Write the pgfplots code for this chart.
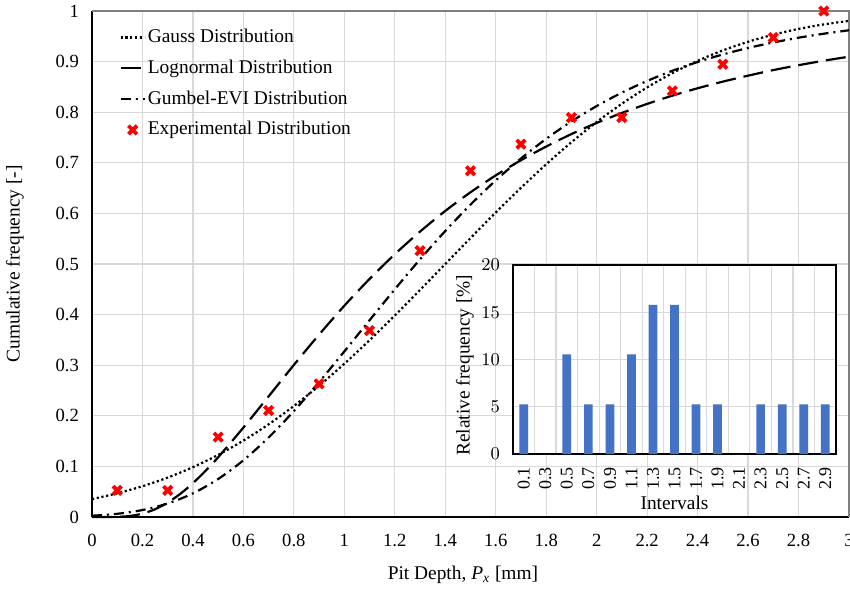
\documentclass[border=0pt]{standalone}
\usepackage{fontspec}
\setmainfont{Liberation Serif}
\usepackage{pgfplots}
\usepackage{pgfplotstable}
\pgfplotsset{compat=1.18}
\definecolor{gridgray}{HTML}{D9D9D9}
\definecolor{framegray}{HTML}{7F7F7F}
\definecolor{barblue}{HTML}{4472C4}

\pgfplotstableread{
x y
0.0 0.0354
0.1 0.0468
0.2 0.0608
0.3 0.0779
0.4 0.0985
0.5 0.1228
0.6 0.1510
0.7 0.1832
0.8 0.2194
0.9 0.2594
1.0 0.3029
1.1 0.3494
1.2 0.3982
1.3 0.4487
1.4 0.5000
1.5 0.5513
1.6 0.6018
1.7 0.6506
1.8 0.6971
1.9 0.7406
2.0 0.7806
2.1 0.8168
2.2 0.8490
2.3 0.8772
2.4 0.9015
2.5 0.9221
2.6 0.9392
2.7 0.9532
2.8 0.9646
2.9 0.9735
3.0 0.9805
}\gauss

\pgfplotstableread{
x y
0.0 0.0000
0.05 0.0000
0.1 0.0003
0.15 0.0020
0.2 0.0067
0.25 0.0153
0.3 0.0285
0.35 0.0458
0.4 0.0669
0.45 0.0913
0.5 0.1181
0.6 0.1767
0.7 0.2385
0.8 0.3005
0.9 0.3605
1.0 0.4175
1.1 0.4705
1.2 0.5193
1.3 0.5640
1.4 0.6049
1.5 0.6417
1.6 0.6751
1.7 0.7051
1.8 0.7321
1.9 0.7568
2.0 0.7788
2.1 0.7985
2.2 0.8164
2.3 0.8327
2.4 0.8473
2.5 0.8604
2.6 0.8722
2.7 0.8832
2.8 0.8929
2.9 0.9017
3.0 0.9097
}\lognorm

\pgfplotstableread{
x y
0.0 0.0025
0.1 0.0063
0.2 0.0138
0.3 0.0267
0.4 0.0467
0.5 0.0751
0.6 0.1120
0.7 0.1572
0.8 0.2093
0.9 0.2666
1.0 0.3272
1.1 0.3889
1.2 0.4500
1.3 0.5092
1.4 0.5652
1.5 0.6173
1.6 0.6652
1.7 0.7085
1.8 0.7474
1.9 0.7818
2.0 0.8121
2.1 0.8387
2.2 0.8618
2.3 0.8819
2.4 0.8992
2.5 0.9141
2.6 0.9269
2.7 0.9378
2.8 0.9472
2.9 0.9551
3.0 0.9619
}\gumbel

\pgfplotstableread{
x y
0.1 0.0526
0.3 0.0526
0.5 0.1579
0.7 0.2105
0.9 0.2632
1.1 0.3684
1.3 0.5263
1.5 0.6842
1.7 0.7368
1.9 0.7895
2.1 0.7895
2.3 0.8421
2.5 0.8947
2.7 0.9474
2.9 1.0000
}\experim

\pgfplotstableread{
x y
0 5.26
1 0
2 10.53
3 5.26
4 5.26
5 10.53
6 15.79
7 15.79
8 5.26
9 5.26
10 0
11 5.26
12 5.26
13 5.26
14 5.26
}\hist

\begin{document}
\begin{tikzpicture}[font=\fontsize{9.7}{11.5}\selectfont]
\path[use as bounding box] (-46pt,-36pt) rectangle (379pt,258.5pt);
\begin{axis}[
  scale only axis, width=378.5pt, height=253pt,
  xmin=0, xmax=3, ymin=0, ymax=1,
  clip=false,
  axis x line*=bottom, axis y line*=left,
  axis line style={-, black, line width=0.8pt},
  major tick length=0pt,
  xtick={0,0.2,0.4,0.6,0.8,1,1.2,1.4,1.6,1.8,2,2.2,2.4,2.6,2.8,3},
  xticklabels={0,0.2,0.4,0.6,0.8,1,1.2,1.4,1.6,1.8,2,2.2,2.4,2.6,2.8,3},
  ytick={0,0.1,0.2,0.3,0.4,0.5,0.6,0.7,0.8,0.9,1},
  yticklabels={0,0.1,0.2,0.3,0.4,0.5,0.6,0.7,0.8,0.9,1},
  ticklabel style={font=\fontsize{9.3}{11}\selectfont},
  xticklabel style={yshift=-5pt},
  yticklabel style={xshift=-3pt},
  grid=major, major grid style={gridgray, line width=0.6pt},
  every axis y label/.style={at={(axis description cs:-0.1017,0.5)}, anchor=center, rotate=90},
  every axis x label/.style={at={(axis description cs:0.49,-0.1146)}, anchor=center},
  ylabel={Cumulative frequency [-]},
  xlabel={Pit Depth, \textit{P}\textsubscript{\textit{x}} [mm]},
  legend image code/.code={\draw[mark repeat=2,mark phase=2,#1] plot coordinates {(0pt,0pt) (6pt,0pt) (12pt,0pt)};},
  legend style={at={(axis description cs:0.028,0.98)}, anchor=north west, draw=none, fill=none,
    row sep=3.4pt, nodes={inner sep=1pt, text height=7.5pt, text depth=2.5pt},
    font=\fontsize{9.7}{11.5}\selectfont},
  legend cell align=left,
]
\draw[framegray, line width=1pt] (rel axis cs:0,1) -- (rel axis cs:1,1) -- (rel axis cs:1,0);
\addplot[black, line width=1.1pt, dash pattern=on 1.1pt off 1.3pt, smooth] table[x=x,y=y] {\gauss};
\addlegendentry{Gauss Distribution}
\addplot[black, line width=1.1pt, dash pattern=on 10pt off 4pt, smooth] table[x=x,y=y] {\lognorm};
\addlegendentry{Lognormal Distribution}
\addplot[black, line width=1.1pt, dash pattern=on 5pt off 2.5pt on 1pt off 2.5pt, smooth] table[x=x,y=y] {\gumbel};
\addlegendentry{Gumbel-EVI Distribution}
\addplot[only marks, mark=x, mark size=3pt, red, line width=1.9pt] table[x=x,y=y] {\experim};
\addlegendentry{Experimental Distribution}
\end{axis}

\begin{axis}[
  at={(210.5pt,31.5pt)}, anchor=south west,
  scale only axis, width=161.5pt, height=94.5pt,
  axis background/.style={fill=white},
  xmin=-0.5, xmax=14.5, ymin=0, ymax=20,
  axis line style={black, line width=0.8pt},
  major tick length=0pt, minor tick length=0pt,
  xtick={0,1,2,3,4,5,6,7,8,9,10,11,12,13,14},
  xticklabels={0.1,0.3,0.5,0.7,0.9,1.1,1.3,1.5,1.7,1.9,2.1,2.3,2.5,2.7,2.9},
  minor xtick={0.5,1.5,2.5,3.5,4.5,5.5,6.5,7.5,8.5,9.5,10.5,11.5,12.5,13.5},
  ytick={0,5,10,15,20},
  xminorgrids, ymajorgrids,
  major grid style={gridgray, line width=0.6pt},
  minor grid style={gridgray, line width=0.6pt},
  ticklabel style={font=\fontsize{9}{10.5}\selectfont},
  xticklabel style={rotate=90, anchor=east, xshift=-3pt},
  yticklabel style={xshift=-3pt},
  every axis y label/.style={at={(axis description cs:-0.1486,0.47)}, anchor=center, rotate=90},
  every axis x label/.style={at={(axis description cs:0.5,-0.259)}, anchor=center},
  ylabel={Relative frequency [\%]},
  xlabel={Intervals},
]
\addplot[ybar, bar width=4.35pt, fill=barblue, draw=none] table[x=x,y=y] {\hist};
\end{axis}
\end{tikzpicture}
\end{document}
